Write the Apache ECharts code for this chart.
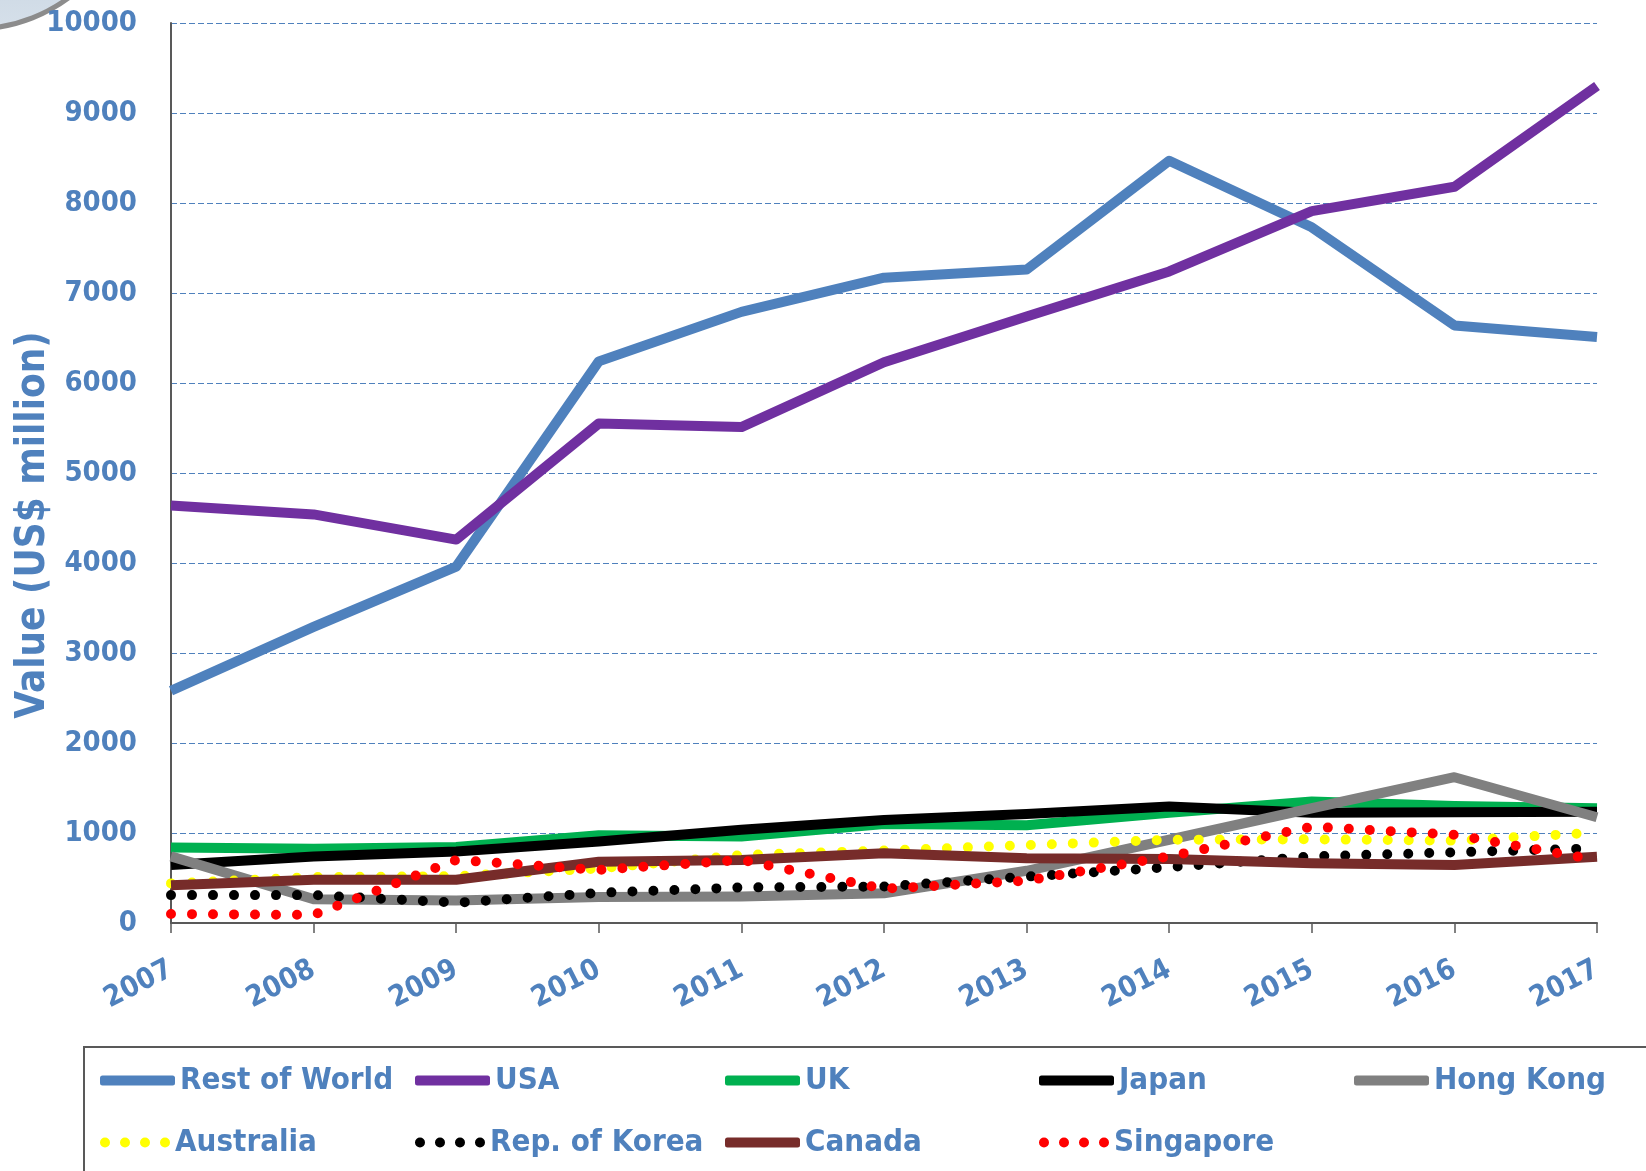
<!DOCTYPE html>
<html>
<head>
<meta charset="utf-8">
<script src="https://cdn.jsdelivr.net/npm/echarts@6/dist/echarts.min.js"></script>
<style>
  html, body { margin: 0; padding: 0; background: #fff; }
  #chart { width: 1646px; height: 1171px; }
</style>
</head>
<body>
<div id="chart"></div>
<script>
const years = ['2007', '2008', '2009', '2010', '2011', '2012', '2013', '2014', '2015', '2016', '2017'];
const yTicks = [0, 1000, 2000, 3000, 4000, 5000, 6000, 7000, 8000, 9000, 10000];

const restOfWorld = [2580, 3290, 3960, 6240, 6790, 7170, 7260, 8470, 7730, 6640, 6510];
const usa = [4640, 4540, 4260, 5550, 5510, 6230, 6740, 7240, 7910, 8180, 9300];
const uk = [840, 825, 845, 975, 960, 1100, 1085, 1225, 1350, 1300, 1275];
const japan = [645, 740, 795, 905, 1035, 1145, 1210, 1295, 1225, 1230, 1235];
const hongKong = [740, 265, 250, 290, 295, 330, 580, 925, 1275, 1620, 1175];
const australia = [440, 510, 520, 605, 755, 805, 865, 925, 930, 915, 1005];
const korea = [310, 310, 225, 335, 395, 405, 515, 620, 740, 785, 830];
const canada = [420, 480, 480, 680, 700, 775, 720, 710, 665, 645, 735];
const singapore = [100, 90, 700, 590, 700, 380, 470, 740, 1070, 980, 700];

const FONT = '"DejaVu Sans Condensed", "Liberation Sans Narrow", sans-serif';
const LABEL_BLUE = '#4F81BD';
const AXIS_GREY = '#595959';
const DOTS = 'path://M0,5a5,5 0 1,0 10,0a5,5 0 1,0 -10,0M20,5a5,5 0 1,0 10,0a5,5 0 1,0 -10,0M40,5a5,5 0 1,0 10,0a5,5 0 1,0 -10,0M60,5a5,5 0 1,0 10,0a5,5 0 1,0 -10,0';

const seriesDefs = [
  { name: 'Rest of World', data: restOfWorld, color: '#4F81BD', dotted: false },
  { name: 'USA', data: usa, color: '#7030A0', dotted: false },
  { name: 'UK', data: uk, color: '#00B050', dotted: false },
  { name: 'Japan', data: japan, color: '#000000', dotted: false },
  { name: 'Hong Kong', data: hongKong, color: '#808080', dotted: false },
  { name: 'Australia', data: australia, color: '#FFFF00', dotted: true },
  { name: 'Rep. of Korea', data: korea, color: '#000000', dotted: true },
  { name: 'Canada', data: canada, color: '#772C2A', dotted: false },
  { name: 'Singapore', data: singapore, color: '#FF0000', dotted: true },
];

// legend slots: 5 columns x 2 rows, same order as the series
const legendCols = [100, 415, 725, 1039, 1354];
const legendRows = [1065, 1127];

const chart = echarts.init(document.getElementById('chart'));

const legends = seriesDefs.map((s, i) => ({
  data: [s.name],
  left: legendCols[i % 5],
  top: legendRows[Math.floor(i / 5)],
  padding: 0,
  orient: 'horizontal',
  icon: s.dotted ? DOTS : 'roundRect',
  itemWidth: s.dotted ? 70 : 75,
  itemHeight: s.dotted ? 13 : 10,
  selectedMode: false,
  textStyle: { fontFamily: FONT, fontSize: 31, fontWeight: 'bold', color: LABEL_BLUE },
}));

const option = {
  backgroundColor: '#ffffff',
  animation: false,
  grid: { left: 171, right: 49, top: 23, bottom: 248, containLabel: false },
  legend: legends,
  graphic: [
    {
      type: 'circle',
      shape: { cx: -26, cy: -130, r: 159 },
      style: {
        fill: new echarts.graphic.LinearGradient(0, 0, 0, 1, [
          { offset: 0, color: '#9fb4c9' },
          { offset: 1, color: '#d6e0ea' },
        ]),
        stroke: '#8c8c8c',
        lineWidth: 5,
      },
      z: 0,
    },
    {
      type: 'rect',
      shape: { x: 84, y: 1047, width: 1700, height: 300 },
      style: { fill: 'none', stroke: AXIS_GREY, lineWidth: 2 },
      silent: true,
      z: 0,
    },
    {
      type: 'text',
      x: 14,
      y: 525,
      rotation: Math.PI / 2,
      style: {
        text: 'Value (US$ million)',
        fontFamily: FONT,
        fontSize: 40,
        fontWeight: 'bold',
        fill: LABEL_BLUE,
        align: 'center',
        verticalAlign: 'top',
      },
    },
  ],
  xAxis: {
    type: 'category',
    data: years,
    boundaryGap: false,
    axisLine: { show: true, lineStyle: { color: AXIS_GREY, width: 2 } },
    axisTick: { show: true, length: 10, alignWithLabel: true, lineStyle: { color: AXIS_GREY, width: 1.5 } },
    axisLabel: {
      rotate: 27,
      margin: 45,
      fontFamily: FONT,
      fontSize: 29,
      fontWeight: 'bold',
      color: LABEL_BLUE,
    },
    splitLine: { show: false },
  },
  yAxis: {
    type: 'value',
    min: yTicks[0],
    max: yTicks[yTicks.length - 1],
    interval: 1000,
    axisLine: { show: true, lineStyle: { color: AXIS_GREY, width: 2 } },
    axisTick: { show: false },
    axisLabel: {
      margin: 34,
      fontFamily: FONT,
      fontSize: 29,
      fontWeight: 'bold',
      color: LABEL_BLUE,
      formatter: (v) => String(v),
    },
    splitLine: { show: true, lineStyle: { color: '#4F81BD', width: 1.2, type: [6, 3] } },
  },
  series: seriesDefs.map((s) => ({
    name: s.name,
    type: 'line',
    data: s.data,
    symbol: 'none',
    smooth: false,
    itemStyle: { color: s.color },
    lineStyle: s.dotted
      ? { color: s.color, width: 10, type: [0, 21], cap: 'round' }
      : { color: s.color, width: 10, join: 'round' },
  })),
};

chart.setOption(option);
</script>
</body>
</html>
